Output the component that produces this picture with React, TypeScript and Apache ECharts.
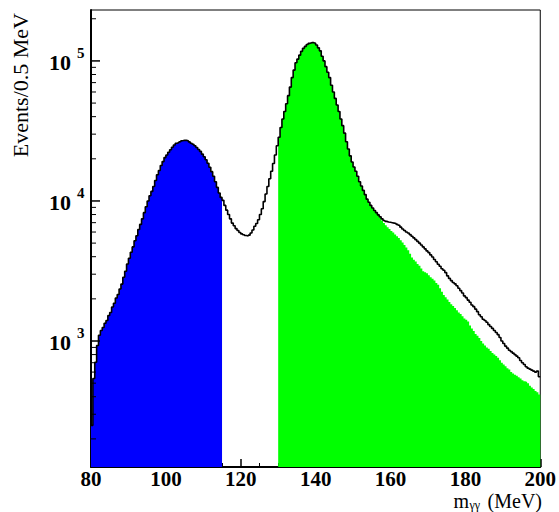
import React, { useEffect, useRef } from "react";
import * as echarts from "echarts";

// Histogram binning (MeV)
const binStart = 80;
const binWidth = 0.5;

// x-axis tick labels
const xTickLabels = [80, 100, 120, 140, 160, 180, 200];

// Total spectrum (black outline): events per 0.5 MeV bin, 80 -> 200 MeV
const totalCounts = [
  250, 540, 705, 930, 1100, 1190, 1250, 1340, 1400, 1520, // 80.0-84.5
  1600, 1750, 1860, 2030, 2150, 2350, 2550, 2850, 3150, 3550, // 85.0-89.5
  3900, 4300, 4700, 5200, 5650, 6250, 6800, 7450, 8250, 9100, // 90.0-94.5
  10000, 10900, 11700, 12700, 14000, 15400, 16500, 17900, 19100, 20400, // 95.0-99.5
  21300, 22300, 23200, 24200, 25100, 25800, 26100, 26500, 26900, 27100, // 100.0-104.5
  27100, 26900, 26400, 25800, 25400, 24800, 24100, 23300, 22600, 21600, // 105.0-109.5
  20700, 19700, 18600, 17400, 16200, 15000, 13700, 12500, 11400, 10600, // 110.0-114.5
  10100, 9300, 8600, 8000, 7450, 6950, 6650, 6350, 6150, 5950, // 115.0-119.5
  5820, 5740, 5670, 5620, 5700, 5900, 6200, 6600, 6900, 7350, // 120.0-124.5
  8000, 8800, 9900, 11200, 12700, 14400, 16300, 18500, 21300, 24800, // 125.0-129.5
  28500, 33500, 38500, 43500, 49500, 56500, 65000, 76000, 86000, 97000, // 130.0-134.5
  103000, 110000, 117000, 123000, 127000, 131000, 133500, 135000, 135000, 133500, // 135.0-139.5
  130000, 124000, 118000, 108000, 100000, 91000, 83000, 76000, 67000, 60000, // 140.0-144.5
  54000, 48500, 43500, 38500, 34500, 30500, 26500, 23500, 21000, 19000, // 145.0-149.5
  17500, 16300, 15000, 13700, 12800, 11900, 11100, 10300, 9800, 9300, // 150.0-154.5
  8900, 8550, 8250, 7950, 7700, 7450, 7250, 7150, 7080, 7050, // 155.0-159.5
  7000, 6950, 6900, 6800, 6700, 6500, 6300, 6150, 6000, 5900, // 160.0-164.5
  5750, 5600, 5450, 5300, 5150, 5000, 4850, 4700, 4550, 4400, // 165.0-169.5
  4280, 4120, 3980, 3820, 3680, 3530, 3420, 3280, 3200, 3080, // 170.0-174.5
  2920, 2800, 2700, 2620, 2560, 2480, 2380, 2290, 2200, 2100, // 175.0-179.5
  2040, 1960, 1890, 1810, 1760, 1690, 1620, 1540, 1490, 1430, // 180.0-184.5
  1400, 1360, 1310, 1270, 1230, 1190, 1150, 1110, 1060, 1000, // 185.0-189.5
  960, 920, 890, 860, 840, 820, 800, 780, 760, 725, // 190.0-194.5
  700, 680, 655, 640, 630, 620, 610, 600, 610, 555, // 195.0-199.5
];

// Blue (eta) window: filled total between these edges
const blueStart = 80;
const blueEnd = 115;

// Green (pi0) selection: equals total from 130 to 157 MeV, then its own tail
const greenStart = 130;
const greenSplit = 157;
const greenTail = [
  7600, 7250, 6950, 6700, 6500, 6300, // 157.0-159.5
  6100, 5950, 5750, 5600, 5450, 5250, 5050, 4850, 4650, 4450, // 160.0-164.5
  4200, 3950, 3800, 3700, 3550, 3450, 3300, 3150, 3100, 3050, // 165.0-169.5
  2950, 2850, 2780, 2700, 2600, 2520, 2380, 2250, 2130, 2050, // 170.0-174.5
  1980, 1900, 1830, 1780, 1720, 1660, 1600, 1560, 1500, 1450, // 175.0-179.5
  1420, 1380, 1290, 1230, 1180, 1120, 1090, 1050, 1000, 960, // 180.0-184.5
  930, 900, 880, 850, 820, 800, 780, 760, 730, 700, // 185.0-189.5
  680, 660, 640, 625, 600, 585, 575, 565, 550, 540, // 190.0-194.5
  525, 515, 510, 500, 480, 465, 455, 440, 430, 415, // 195.0-199.5
];

// y axis (log) range and ticks
const yMin = 126;
const yMax = 231000;
const yMajorTicks = [1000, 10000, 100000];
const yMinorTicks = [
  200, 300, 400, 500, 600, 700, 800, 900,
  2000, 3000, 4000, 5000, 6000, 7000, 8000, 9000,
  20000, 30000, 40000, 50000, 60000, 70000, 80000, 90000,
  200000,
];

const SERIF = '"Liberation Serif", "Times New Roman", serif';

function idx(m: number): number {
  return Math.round((m - binStart) / binWidth);
}

function stepPoints(values: number[], start: number): number[][] {
  const pts = values.map((v, i) => [start + i * binWidth, v]);
  pts.push([start + values.length * binWidth, values[values.length - 1]]);
  return pts;
}

export default function App() {
  const ref = useRef<HTMLDivElement>(null);

  useEffect(() => {
    if (!ref.current) return;
    const chart = echarts.init(ref.current, undefined, { renderer: "svg" });

    const blueValues = totalCounts.slice(idx(blueStart), idx(blueEnd));
    const greenValues = totalCounts.slice(idx(greenStart), idx(greenSplit)).concat(greenTail);

    const option: any = {
      animation: false,
      backgroundColor: "#ffffff",
      grid: {
        left: 91,
        right: 16,
        top: 10,
        bottom: 45,
        show: true,
        borderColor: "#000",
        borderWidth: 1,
        backgroundColor: "transparent",
      },
      xAxis: {
        type: "value",
        min: 80,
        max: 200,
        interval: 20,
        axisLine: { show: true, lineStyle: { color: "#000", width: 2 } },
        axisTick: { show: true, inside: true, length: 8, lineStyle: { color: "#000", width: 1.5 } },
        minorTick: { show: true, splitNumber: 4, length: 4, lineStyle: { color: "#000", width: 1 } },
        splitLine: { show: false },
        minorSplitLine: { show: false },
        axisLabel: {
          color: "#000",
          fontFamily: SERIF,
          fontWeight: "bold",
          fontSize: 21,
          lineHeight: 20,
          margin: 2,
          formatter: (v: number) => (xTickLabels.includes(v) ? String(v) : ""),
        },
      },
      yAxis: {
        type: "log",
        logBase: 10,
        min: yMin,
        max: yMax,
        axisLine: { show: true, lineStyle: { color: "#000", width: 2 } },
        axisTick: { show: false },
        axisLabel: { show: false },
        splitLine: { show: false },
        minorTick: { show: false },
      },
      series: [
        {
          type: "line",
          name: "eta window",
          data: stepPoints(blueValues, blueStart),
          step: "end",
          symbol: "none",
          lineStyle: { width: 0 },
          areaStyle: { color: "#0000ff", opacity: 1, origin: "start" },
          z: 1,
        },
        {
          type: "line",
          name: "pi0 selection",
          data: stepPoints(greenValues, greenStart),
          step: "end",
          symbol: "none",
          lineStyle: { width: 0 },
          areaStyle: { color: "#00ff00", opacity: 1, origin: "start" },
          z: 1,
        },
        {
          type: "line",
          name: "total",
          data: stepPoints(totalCounts, binStart),
          step: "end",
          symbol: "none",
          lineStyle: { color: "#000", width: 1.6 },
          z: 3,
        },
        {
          type: "custom",
          name: "yMinorTicks",
          clip: false,
          silent: true,
          data: yMinorTicks.map((v) => [binStart, v]),
          renderItem: (_p: any, api: any) => {
            const pt = api.coord([api.value(0), api.value(1)]);
            return {
              type: "line",
              shape: { x1: pt[0], y1: pt[1], x2: pt[0] + 5, y2: pt[1] },
              style: { stroke: "#000", lineWidth: 1 },
            };
          },
          z: 4,
        },
        {
          type: "custom",
          name: "yMajorTicks",
          clip: false,
          silent: true,
          data: yMajorTicks.map((v) => [binStart, v, Math.round(Math.log10(v))]),
          renderItem: (_p: any, api: any) => {
            const pt = api.coord([api.value(0), api.value(1)]);
            const exp = api.value(2);
            return {
              type: "group",
              children: [
                {
                  type: "line",
                  shape: { x1: pt[0], y1: pt[1], x2: pt[0] + 9, y2: pt[1] },
                  style: { stroke: "#000", lineWidth: 1.5 },
                },
                {
                  type: "text",
                  style: {
                    text: "10",
                    x: pt[0] - 20,
                    y: pt[1] + 1.5,
                    align: "right",
                    verticalAlign: "middle",
                    fill: "#000",
                    font: `bold 22px ${SERIF}`,
                  },
                },
                {
                  type: "text",
                  style: {
                    text: String(exp),
                    x: pt[0] - 14,
                    y: pt[1] - 8,
                    align: "left",
                    verticalAlign: "middle",
                    fill: "#000",
                    font: `bold 15px ${SERIF}`,
                  },
                },
              ],
            };
          },
          z: 4,
        },
      ],
      graphic: [
        {
          type: "text",
          x: 20.5,
          y: 13,
          rotation: Math.PI / 2,
          style: {
            text: "Events/0.5 MeV",
            align: "right",
            verticalAlign: "middle",
            fill: "#000",
            font: `22px ${SERIF}`,
          },
        },
        {
          type: "text",
          x: 542,
          y: 500.8,
          style: {
            text: "(MeV)",
            align: "right",
            verticalAlign: "middle",
            fill: "#000",
            font: `20px ${SERIF}`,
          },
        },
        {
          type: "text",
          x: 469,
          y: 500.8,
          style: {
            text: "m",
            align: "right",
            verticalAlign: "middle",
            fill: "#000",
            font: `20px ${SERIF}`,
          },
        },
        {
          type: "text",
          x: 469.5,
          y: 505,
          style: {
            text: "γγ",
            align: "left",
            verticalAlign: "middle",
            fill: "#000",
            font: `12px ${SERIF}`,
          },
        },
      ],
    };

    chart.setOption(option);
    return () => chart.dispose();
  }, []);

  return (
    <div
      ref={ref}
      style={{ position: "fixed", left: 0, top: 0, width: 559, height: 512, background: "#fff" }}
    />
  );
}
